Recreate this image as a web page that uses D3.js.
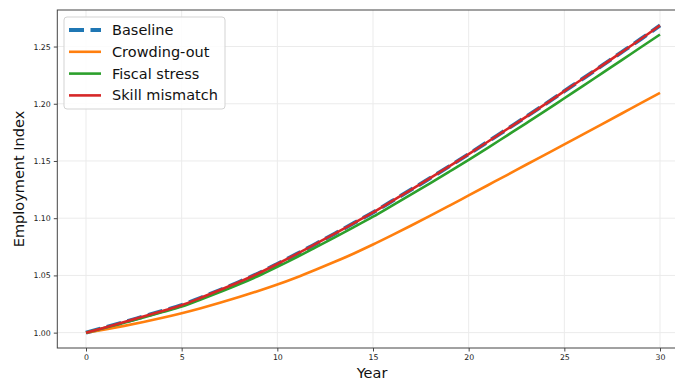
<!DOCTYPE html>
<html>
<head>
<meta charset="utf-8">
<script src="https://cdn.jsdelivr.net/npm/d3@7"></script>
<style>
  html, body { margin: 0; padding: 0; background: #fff; overflow: hidden; }
  svg { display: block; font-family: "DejaVu Sans", sans-serif; }
</style>
</head>
<body>
<div id="chart"></div>
<script>
// values, one per year
const years = d3.range(0, 31);

const baseline = [
  1.0000, 1.0045, 1.0092, 1.0141, 1.0190, 1.0240, 1.0305, 1.0372, 1.0442, 1.0517,
  1.0600, 1.0686, 1.0775, 1.0865, 1.0957, 1.1050, 1.1150, 1.1250, 1.1352, 1.1455,
  1.1560, 1.1668, 1.1777, 1.1886, 1.1997, 1.2110, 1.2223, 1.2337, 1.2451, 1.2566,
  1.2685
];
const crowdingOut = [
  1.0000, 1.0028, 1.0059, 1.0093, 1.0130, 1.0170, 1.0214, 1.0261, 1.0311, 1.0364,
  1.0420, 1.0482, 1.0549, 1.0619, 1.0692, 1.0770, 1.0852, 1.0936, 1.1022, 1.1110,
  1.1199, 1.1288, 1.1377, 1.1467, 1.1556, 1.1645, 1.1735, 1.1825, 1.1915, 1.2005,
  1.2095
];
const fiscalStress = [
  1.0000, 1.0043, 1.0087, 1.0133, 1.0180, 1.0228, 1.0290, 1.0355, 1.0422, 1.0495,
  1.0575, 1.0658, 1.0745, 1.0833, 1.0922, 1.1013, 1.1110, 1.1208, 1.1307, 1.1408,
  1.1510, 1.1615, 1.1722, 1.1829, 1.1937, 1.2048, 1.2158, 1.2270, 1.2381, 1.2494,
  1.2605
];
const skillMismatch = [
  1.0000, 1.0045, 1.0092, 1.0141, 1.0190, 1.0240, 1.0305, 1.0372, 1.0442, 1.0517,
  1.0600, 1.0686, 1.0775, 1.0865, 1.0957, 1.1050, 1.1150, 1.1250, 1.1352, 1.1455,
  1.1560, 1.1668, 1.1777, 1.1886, 1.1997, 1.2110, 1.2223, 1.2337, 1.2451, 1.2566,
  1.2685
];

const seriesNames = ['Baseline', 'Crowding-out', 'Fiscal stress', 'Skill mismatch'];
const seriesValues = [baseline, crowdingOut, fiscalStress, skillMismatch];
const seriesColors = ['#1f77b4', '#ff7f0e', '#2ca02c', '#d62728'];

const xTicks = [0, 5, 10, 15, 20, 25, 30];
const yTicks = [1.00, 1.05, 1.10, 1.15, 1.20, 1.25];

const width = 675, height = 383;
// plot box (right edge runs past the picture, as in the reference)
const plotLeft = 57.3, plotRight = 688.7, plotTop = 10, plotBottom = 348;

const svg = d3.select('#chart').append('svg')
  .attr('width', width)
  .attr('height', height);

// matplotlib-like 5% padding
const xExt = [0, 30];
const xPad = (xExt[1] - xExt[0]) * 0.05;
const x = d3.scaleLinear().domain([xExt[0] - xPad, xExt[1] + xPad]).range([plotLeft, plotRight]);

const allVals = seriesValues.flat();
const yExt = d3.extent(allVals);
const yPad = (yExt[1] - yExt[0]) * 0.05;
const y = d3.scaleLinear().domain([yExt[0] - yPad, yExt[1] + yPad]).range([plotBottom, plotTop]);

// grid
const grid = svg.append('g');
grid.selectAll('.gx').data(xTicks).enter().append('line')
  .attr('x1', d => x(d)).attr('x2', d => x(d))
  .attr('y1', plotTop).attr('y2', plotBottom)
  .attr('stroke', '#ebebeb').attr('stroke-width', 1);
grid.selectAll('.gy').data(yTicks).enter().append('line')
  .attr('x1', plotLeft).attr('x2', plotRight)
  .attr('y1', d => y(d)).attr('y2', d => y(d))
  .attr('stroke', '#ebebeb').attr('stroke-width', 1);

// lines
const line = d3.line()
  .x((d, i) => x(years[i]))
  .y(d => y(d))
  .curve(d3.curveMonotoneX);

seriesValues.forEach((vals, i) => {
  const p = svg.append('path')
    .datum(vals)
    .attr('d', line)
    .attr('fill', 'none')
    .attr('stroke', seriesColors[i])
    .attr('stroke-width', i === 0 ? 4 : 2.6)
    .attr('stroke-linejoin', 'round');
  if (i === 0) p.attr('stroke-dasharray', '15,6.5');
});

// axes
const xAxis = svg.append('g')
  .attr('transform', `translate(0,${plotBottom})`)
  .call(d3.axisBottom(x).tickValues(xTicks).tickFormat(d3.format('d')).tickSize(3.5).tickPadding(3));
const yAxis = svg.append('g')
  .attr('transform', `translate(${plotLeft},0)`)
  .call(d3.axisLeft(y).tickValues(yTicks).tickFormat(d3.format('.2f')).tickSize(3.5).tickPadding(3));

[xAxis, yAxis].forEach(a => {
  a.select('.domain').remove();
  a.selectAll('line').attr('stroke', '#333').attr('stroke-width', 0.9);
  a.selectAll('text').attr('fill', '#222').attr('font-size', 7.8)
    .attr('font-family', '"DejaVu Sans", sans-serif');
});

// spines
svg.append('rect')
  .attr('x', plotLeft).attr('y', plotTop)
  .attr('width', plotRight - plotLeft).attr('height', plotBottom - plotTop)
  .attr('fill', 'none').attr('stroke', '#444').attr('stroke-width', 1);

// axis labels
svg.append('text')
  .attr('x', (plotLeft + plotRight) / 2 - 1).attr('y', 378)
  .attr('text-anchor', 'middle')
  .attr('font-size', 14.5).attr('fill', '#111')
  .text('Year');
svg.append('text')
  .attr('transform', `translate(24,${(plotTop + plotBottom) / 2}) rotate(-90)`)
  .attr('text-anchor', 'middle')
  .attr('font-size', 14.5).attr('fill', '#111')
  .text('Employment Index');

// legend
const legend = svg.append('g').attr('transform', 'translate(64,17)');
legend.append('rect')
  .attr('width', 161).attr('height', 92)
  .attr('rx', 3)
  .attr('fill', '#fff').attr('fill-opacity', 0.85)
  .attr('stroke', '#d3d3d3').attr('stroke-width', 1);

seriesNames.forEach((name, i) => {
  const row = legend.append('g').attr('transform', `translate(0,${13 + i * 21.8})`);
  const h = row.append('line')
    .attr('x1', 5).attr('x2', 37).attr('y1', 0).attr('y2', 0)
    .attr('stroke', seriesColors[i])
    .attr('stroke-width', i === 0 ? 4 : 2.6);
  if (i === 0) h.attr('stroke-dasharray', '15,6.5');
  row.append('text')
    .attr('x', 48).attr('y', 5)
    .attr('font-size', 14.5).attr('fill', '#111')
    .text(name);
});
</script>
</body>
</html>
